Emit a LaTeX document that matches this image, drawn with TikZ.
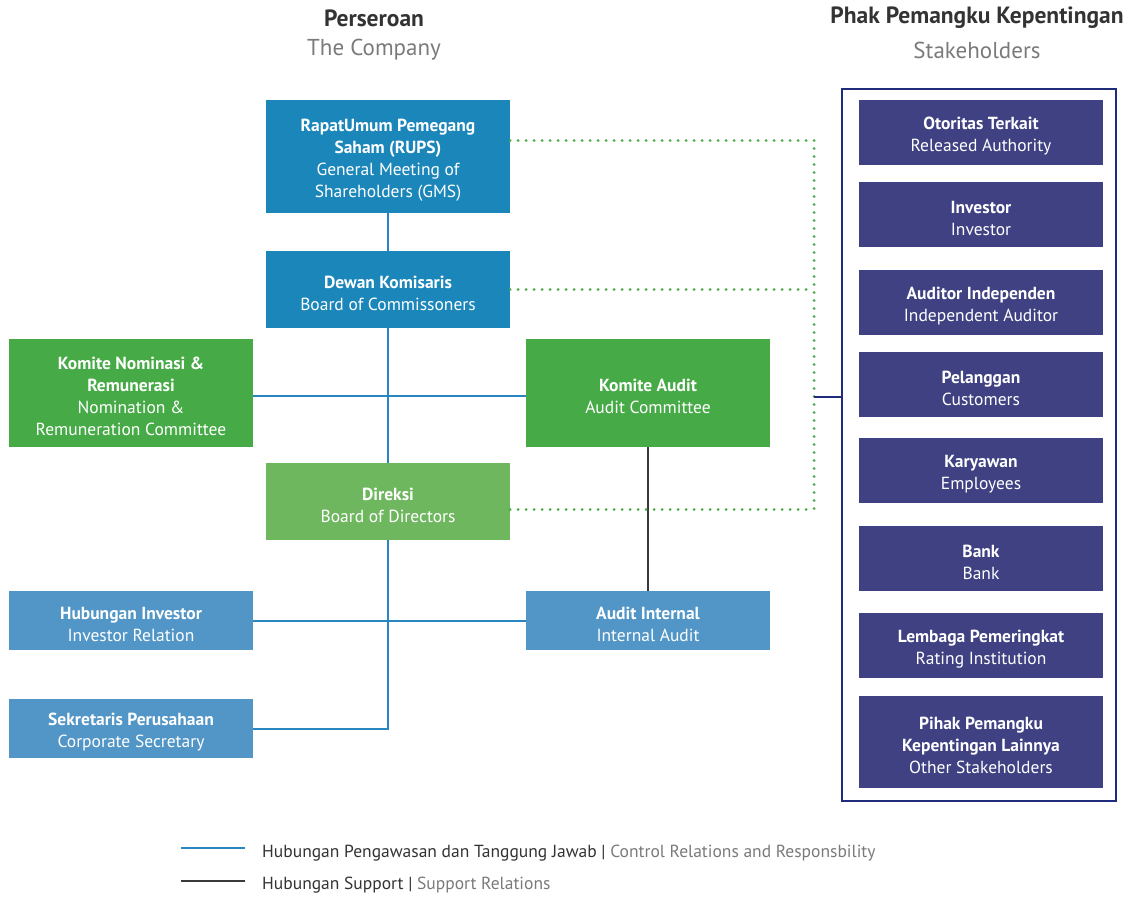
\documentclass[tikz,border=0pt]{standalone}
\usepackage{fontspec}
\setmainfont{PT Sans}
\definecolor{cBlueDk}{HTML}{1B86BA}
\definecolor{cGreen}{HTML}{46AB46}
\definecolor{cGreenLt}{HTML}{6FB75F}
\definecolor{cBlueLt}{HTML}{5196C6}
\definecolor{cNavy}{HTML}{3F4183}
\definecolor{cFrame}{HTML}{1F2B7B}
\definecolor{cLine}{HTML}{2A86C0}
\definecolor{cBlack}{HTML}{3A3A3A}
\definecolor{cDot}{HTML}{46AB46}
\definecolor{cTitle}{HTML}{333333}
\definecolor{cSub}{HTML}{7A7A7A}
\newcommand\tstrut{\rule{0pt}{20pt}}
\begin{document}
\begin{tikzpicture}[x=1pt,y=-1pt,
  orgbox/.style={rectangle, minimum width=244pt, inner sep=0pt, text=white,
     align=center, font=\fontsize{17.5}{22}\selectfont},
  control/.style={draw=cLine, line width=2pt},
  support/.style={draw=cBlack, line width=2pt},
  dotted link/.style={draw=cDot, line width=3pt, line cap=round, dash pattern=on 0pt off 8pt},
  title/.style={font=\fontsize{23.5}{26}\selectfont\bfseries, text=cTitle},
  subtitle/.style={font=\fontsize{23}{26}\selectfont, text=cSub},
  legtext/.style={anchor=west, font=\fontsize{17.5}{20}\selectfont, text=cTitle, inner sep=0pt}
]
\useasboundingbox (0,0) rectangle (1137,897);

% titles
\node[title] (t1) at (374,18) {Perseroan};
\node[subtitle] (t1s) at (374,50) {The Company};
\node[title] (t2) at (977,18) {Phak Pemangku Kepentingan};
\node[subtitle] (t2s) at (977,50) {Stakeholders};

% company boxes
\node[orgbox, fill=cBlueDk, minimum height=113pt] (rups) at (388,156.5)
  {\tstrut\textbf{RapatUmum Pemegang}\\\textbf{Saham (RUPS)}\\General Meeting of\\Shareholders (GMS)};
\node[orgbox, fill=cBlueDk, minimum height=77pt] (dewan) at (388,289.5)
  {\tstrut\textbf{Dewan Komisaris}\\Board of Commissoners};
\node[orgbox, fill=cGreen, minimum height=108pt] (komnom) at (131,393)
  {\tstrut\textbf{Komite Nominasi \&}\\\textbf{Remunerasi}\\Nomination \&\\Remuneration Committee};
\node[orgbox, fill=cGreen, minimum height=108pt] (komaud) at (648,393)
  {\tstrut\textbf{Komite Audit}\\Audit Committee};
\node[orgbox, fill=cGreenLt, minimum height=77pt] (direksi) at (388,501.5)
  {\tstrut\textbf{Direksi}\\Board of Directors};
\node[orgbox, fill=cBlueLt, minimum height=59pt] (hubinv) at (131,620.5)
  {\tstrut\textbf{Hubungan Investor}\\Investor Relation};
\node[orgbox, fill=cBlueLt, minimum height=59pt] (audint) at (648,620.5)
  {\tstrut\textbf{Audit Internal}\\Internal Audit};
\node[orgbox, fill=cBlueLt, minimum height=59pt] (sekr) at (131,728.5)
  {\tstrut\textbf{Sekretaris Perusahaan}\\Corporate Secretary};

% stakeholder frame and boxes
\node[draw=cFrame, line width=2pt, minimum width=274pt, minimum height=712pt, inner sep=0pt] (frame) at (979,445) {};
\node[orgbox, fill=cNavy, minimum height=65pt] (s1) at (981,132.5) {\tstrut\textbf{Otoritas Terkait}\\Released Authority};
\node[orgbox, fill=cNavy, minimum height=65pt] (s2) at (981,214.5) {\tstrut\textbf{Investor}\\Investor};
\node[orgbox, fill=cNavy, minimum height=65pt] (s3) at (981,302.5) {\tstrut\textbf{Auditor Independen}\\Independent Auditor};
\node[orgbox, fill=cNavy, minimum height=65pt] (s4) at (981,384.5) {\tstrut\textbf{Pelanggan}\\Customers};
\node[orgbox, fill=cNavy, minimum height=65pt] (s5) at (981,470.5) {\tstrut\textbf{Karyawan}\\Employees};
\node[orgbox, fill=cNavy, minimum height=65pt] (s6) at (981,558.5) {\tstrut\textbf{Bank}\\Bank};
\node[orgbox, fill=cNavy, minimum height=65pt] (s7) at (981,645.5) {\tstrut\textbf{Lembaga Pemeringkat}\\Rating Institution};
\node[orgbox, fill=cNavy, minimum height=92pt] (s8) at (981,742) {\tstrut\textbf{Pihak Pemangku}\\\textbf{Kepentingan Lainnya}\\Other Stakeholders};

% control relations
\draw[control] (rups.south) -- (dewan.north);
\draw[control] (dewan.south) -- (direksi.north);
\draw[control] (direksi.south) |- (sekr.east);
\draw[control] ([yshift=-3pt]komnom.east) -- ([yshift=-3pt]komaud.west);
\draw[control] (hubinv.east) -- (audint.west);
% support relation
\draw[support] (komaud.south) -- (audint.north);

% dotted links to stakeholders
\coordinate (d1) at (814,140.5);
\coordinate (d2) at (814,509.5);
\coordinate (dj) at (814,397);
\draw[dotted link] ([yshift=16pt]rups.east) -- (d1);
\draw[dotted link] (dewan.east) -- (dewan.east -| d1);
\draw[dotted link] ([yshift=-8pt]direksi.east) -- (d2);
\draw[dotted link] (d1) -- (d2);
\draw[draw=cFrame, line width=2pt] (dj) -- (dj -| frame.west);

% legend
\coordinate (l1a) at (181,848); \coordinate (l1b) at (245,848);
\coordinate (l2a) at (181,881); \coordinate (l2b) at (245,881);
\draw[control] (l1a) -- (l1b);
\draw[support] (l2a) -- (l2b);
\node[legtext] (lt1) at (262,853) {Hubungan Pengawasan dan Tanggung Jawab | \textcolor{cSub}{Control Relations and Responsbility}};
\node[legtext] (lt2) at (262,885) {Hubungan Support | \textcolor{cSub}{Support Relations}};
\end{tikzpicture}
\end{document}
